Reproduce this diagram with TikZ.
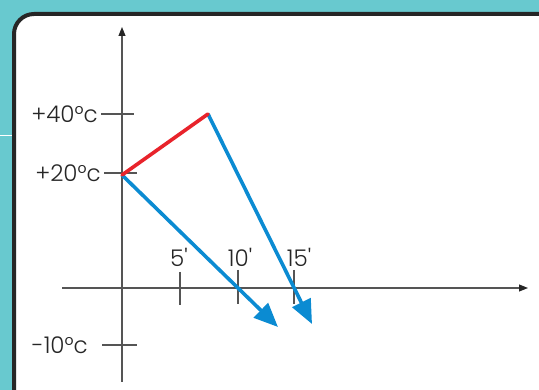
\documentclass[tikz,border=0pt]{standalone}
\usepackage{fontspec}
\IfFontExistsTF{Poppins Light}{\setmainfont{Poppins Light}[Ligatures=TeXOff]}{\setmainfont{Poppins}[Ligatures=TeXOff]}
\usetikzlibrary{arrows.meta}
\definecolor{teal1}{HTML}{68C9CF}
\definecolor{bluev}{HTML}{0B8BD2}
\definecolor{redv}{HTML}{E8232B}
\definecolor{axisgray}{HTML}{555555}
\tikzset{
  axisline/.style={axisgray, line width=1.1pt, arrows={-{Triangle[length=9pt,width=7pt,fill=black!85,color=black!85]}}},
  tickline/.style={axisgray, line width=1.1pt},
  lbl/.style={inner sep=0pt, font=\fontsize{23}{25}\selectfont, text=black!85},
  vec/.style={bluev, line width=3.6pt, -{Triangle[length=24pt,width=20pt]}},
  redvec/.style={redv, line width=3.6pt, line cap=round},
}
\begin{document}
\begin{tikzpicture}[x=1pt,y=-1pt]
\useasboundingbox (0,0) rectangle (539,390);
\clip (0,0) rectangle (539,390);
\fill[teal1] (0,0) rectangle (539,390);
\draw[white, line width=1pt] (0,136) -- (12,136);
\draw[black!85, fill=white, line width=4pt, rounded corners=20pt] (14,14) rectangle (580,430);
% axes
\coordinate (yb) at (122,382);
\coordinate (yt) at (122,27);
\coordinate (xl) at (62,288);
\coordinate (xr) at (528,288);
\draw[axisline] (yb) -- (yt);
\draw[axisline] (xl) -- (xr);
% y ticks
\coordinate (t40a) at (101,114); \coordinate (t40b) at (134,114);
\coordinate (t20a) at (104,173); \coordinate (t20b) at (137,173);
\coordinate (tm10a) at (102,345); \coordinate (tm10b) at (137,345);
\draw[tickline] (t40a) -- (t40b);
\draw[tickline] (t20a) -- (t20b);
\draw[tickline] (tm10a) -- (tm10b);
% x ticks
\coordinate (x5a) at (180,272); \coordinate (x5b) at (180,305);
\coordinate (x10a) at (238,270); \coordinate (x10b) at (238,304);
\coordinate (x15a) at (294,270); \coordinate (x15b) at (294,304);
\draw[tickline] (x5a) -- (x5b);
\draw[tickline] (x10a) -- (x10b);
\draw[tickline] (x15a) -- (x15b);
% labels
\node[lbl, anchor=east] (l40) at (98,114) {+40°c};
\node[lbl, anchor=east] (l20) at (101,173) {+20°c};
\node[lbl, anchor=east] (lm10) at (88,345) {-10°c};
\node[lbl] (l5) at (179,257) {5'};
\node[lbl] (l10) at (240,257) {10'};
\node[lbl] (l15) at (299,257) {15'};
% vectors
\coordinate (o) at (122,175);
\coordinate (p) at (208,114);
\coordinate (e1) at (312,324);
\coordinate (e2) at (278,327);
\draw[vec] (p) -- (e1);
\draw[vec] (o) -- (e2);
\draw[redvec] (o) -- (p);
\end{tikzpicture}
\end{document}
